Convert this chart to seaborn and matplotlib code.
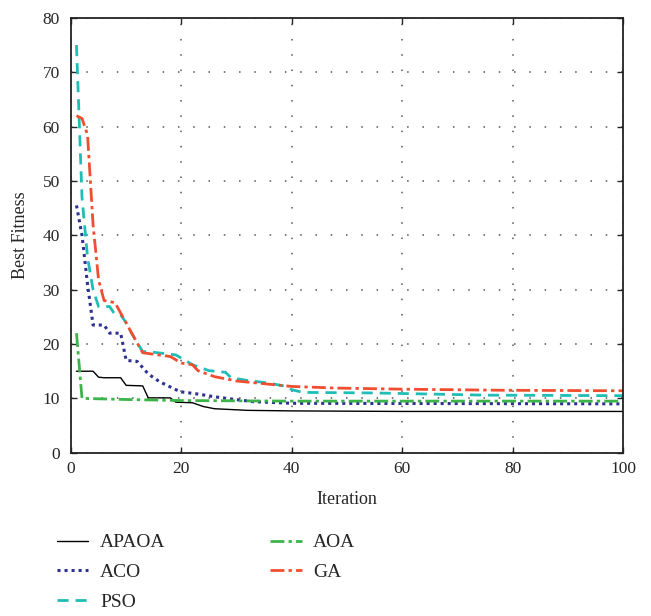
import pandas as pd
import matplotlib
matplotlib.use("Agg")
import matplotlib.pyplot as plt
import seaborn as sns

# change points (iteration, best fitness)
apaoa_it = [1, 4, 5, 6, 9, 10, 13, 14, 18, 19, 22, 24, 26, 32, 40, 60, 100]
apaoa_val = [15, 15, 13.9, 13.8, 13.8, 12.4, 12.3, 10.1, 10.1, 9.3, 9.2, 8.5, 8.1, 7.8, 7.7, 7.6, 7.6]

aco_it = [1, 2, 3, 4, 6, 7, 9, 10, 12, 14, 16, 19, 20, 23, 26, 29, 33, 40, 100]
aco_val = [45.5, 40, 31, 23.5, 23.5, 22, 22, 17, 16.8, 14.5, 13.1, 11.6, 11.2, 10.8, 10.3, 9.9, 9.4, 9.1, 9.0]

pso_it = [1, 2, 3, 4, 5, 7, 8, 9, 10, 11, 12, 13, 14, 19, 22, 25, 28, 29, 32, 36, 39, 40, 42, 55, 75, 100]
pso_val = [75, 47, 36, 30, 26.9, 26.9, 25.4, 25.4, 23.9, 22, 20.2, 18.6, 18.6, 18, 16.2, 15.1, 14.8, 13.8,
           13.3, 12.8, 12.2, 11.6, 11.1, 11.0, 10.6, 10.5]

aoa_it = [1, 2, 10, 20, 40, 100]
aoa_val = [22, 10, 9.8, 9.6, 9.5, 9.5]

ga_it = [1, 2, 3, 4, 5, 6, 8, 9, 10, 11, 12, 13, 18, 20, 22, 23, 26, 30, 34, 40, 48, 60, 78, 100]
ga_val = [62, 61.5, 58.5, 42, 31.8, 28, 27.6, 25.7, 23.9, 22, 20.2, 18.4, 17.7, 16.5, 16.2, 15.1, 14,
          13.2, 12.8, 12.2, 11.9, 11.7, 11.5, 11.4]

series = [
    ("APAOA", apaoa_it, apaoa_val, "black", "-", 1.0),
    ("ACO", aco_it, aco_val, "#2e3192", (0, (1, 1.3)), 2.2),
    ("PSO", pso_it, pso_val, "#1fbdb5", (0, (4, 2.5)), 2.0),
    ("AOA", aoa_it, aoa_val, "#3cb44a", (0, (5, 1.5, 1.2, 1.5)), 2.0),
    ("GA", ga_it, ga_val, "#f04e30", (0, (5, 1.5, 1.2, 1.5)), 2.0),
]

sns.set_style("ticks")
plt.rcParams['font.family'] = ['Liberation Serif', 'DejaVu Serif']

fig = plt.figure(figsize=(6.51, 6.16), dpi=100)
ax = fig.add_axes([0.109, 0.265, 0.848, 0.706])

for name, it, val, color, ls, lw in series:
    df = pd.DataFrame({"Iteration": it, "Best Fitness": val})
    sns.lineplot(data=df, x="Iteration", y="Best Fitness", ax=ax, color=color,
                 linestyle=ls, linewidth=lw, label=name, legend=False)

ax.set_xlim(0, 100)
ax.set_ylim(0, 80)
ax.set_xticks(range(0, 101, 20))
ax.set_yticks(range(0, 81, 10))
ax.grid(True, color="#555555", linestyle=(0, (1, 9)), linewidth=1.1)
ax.tick_params(direction="in", top=True, right=True, labelsize=12.5, length=4, width=1)
ax.tick_params(axis="y", pad=8)
ax.tick_params(axis="x", pad=6)
for s in ax.spines.values():
    s.set_linewidth(1.3)
    s.set_color("#222222")
ax.set_xlabel("Iteration", fontsize=13, labelpad=10)
ax.set_ylabel("Best Fitness", fontsize=13, labelpad=10)

handles, labels = ax.get_legend_handles_labels()
fig.legend(handles, labels, loc="upper left", bbox_to_anchor=(0.061, 0.162), ncol=2,
           frameon=False, fontsize=14, handlelength=1.6, handletextpad=0.6,
           columnspacing=5.4, labelspacing=0.62)

fig.savefig("out.png", dpi=100)
